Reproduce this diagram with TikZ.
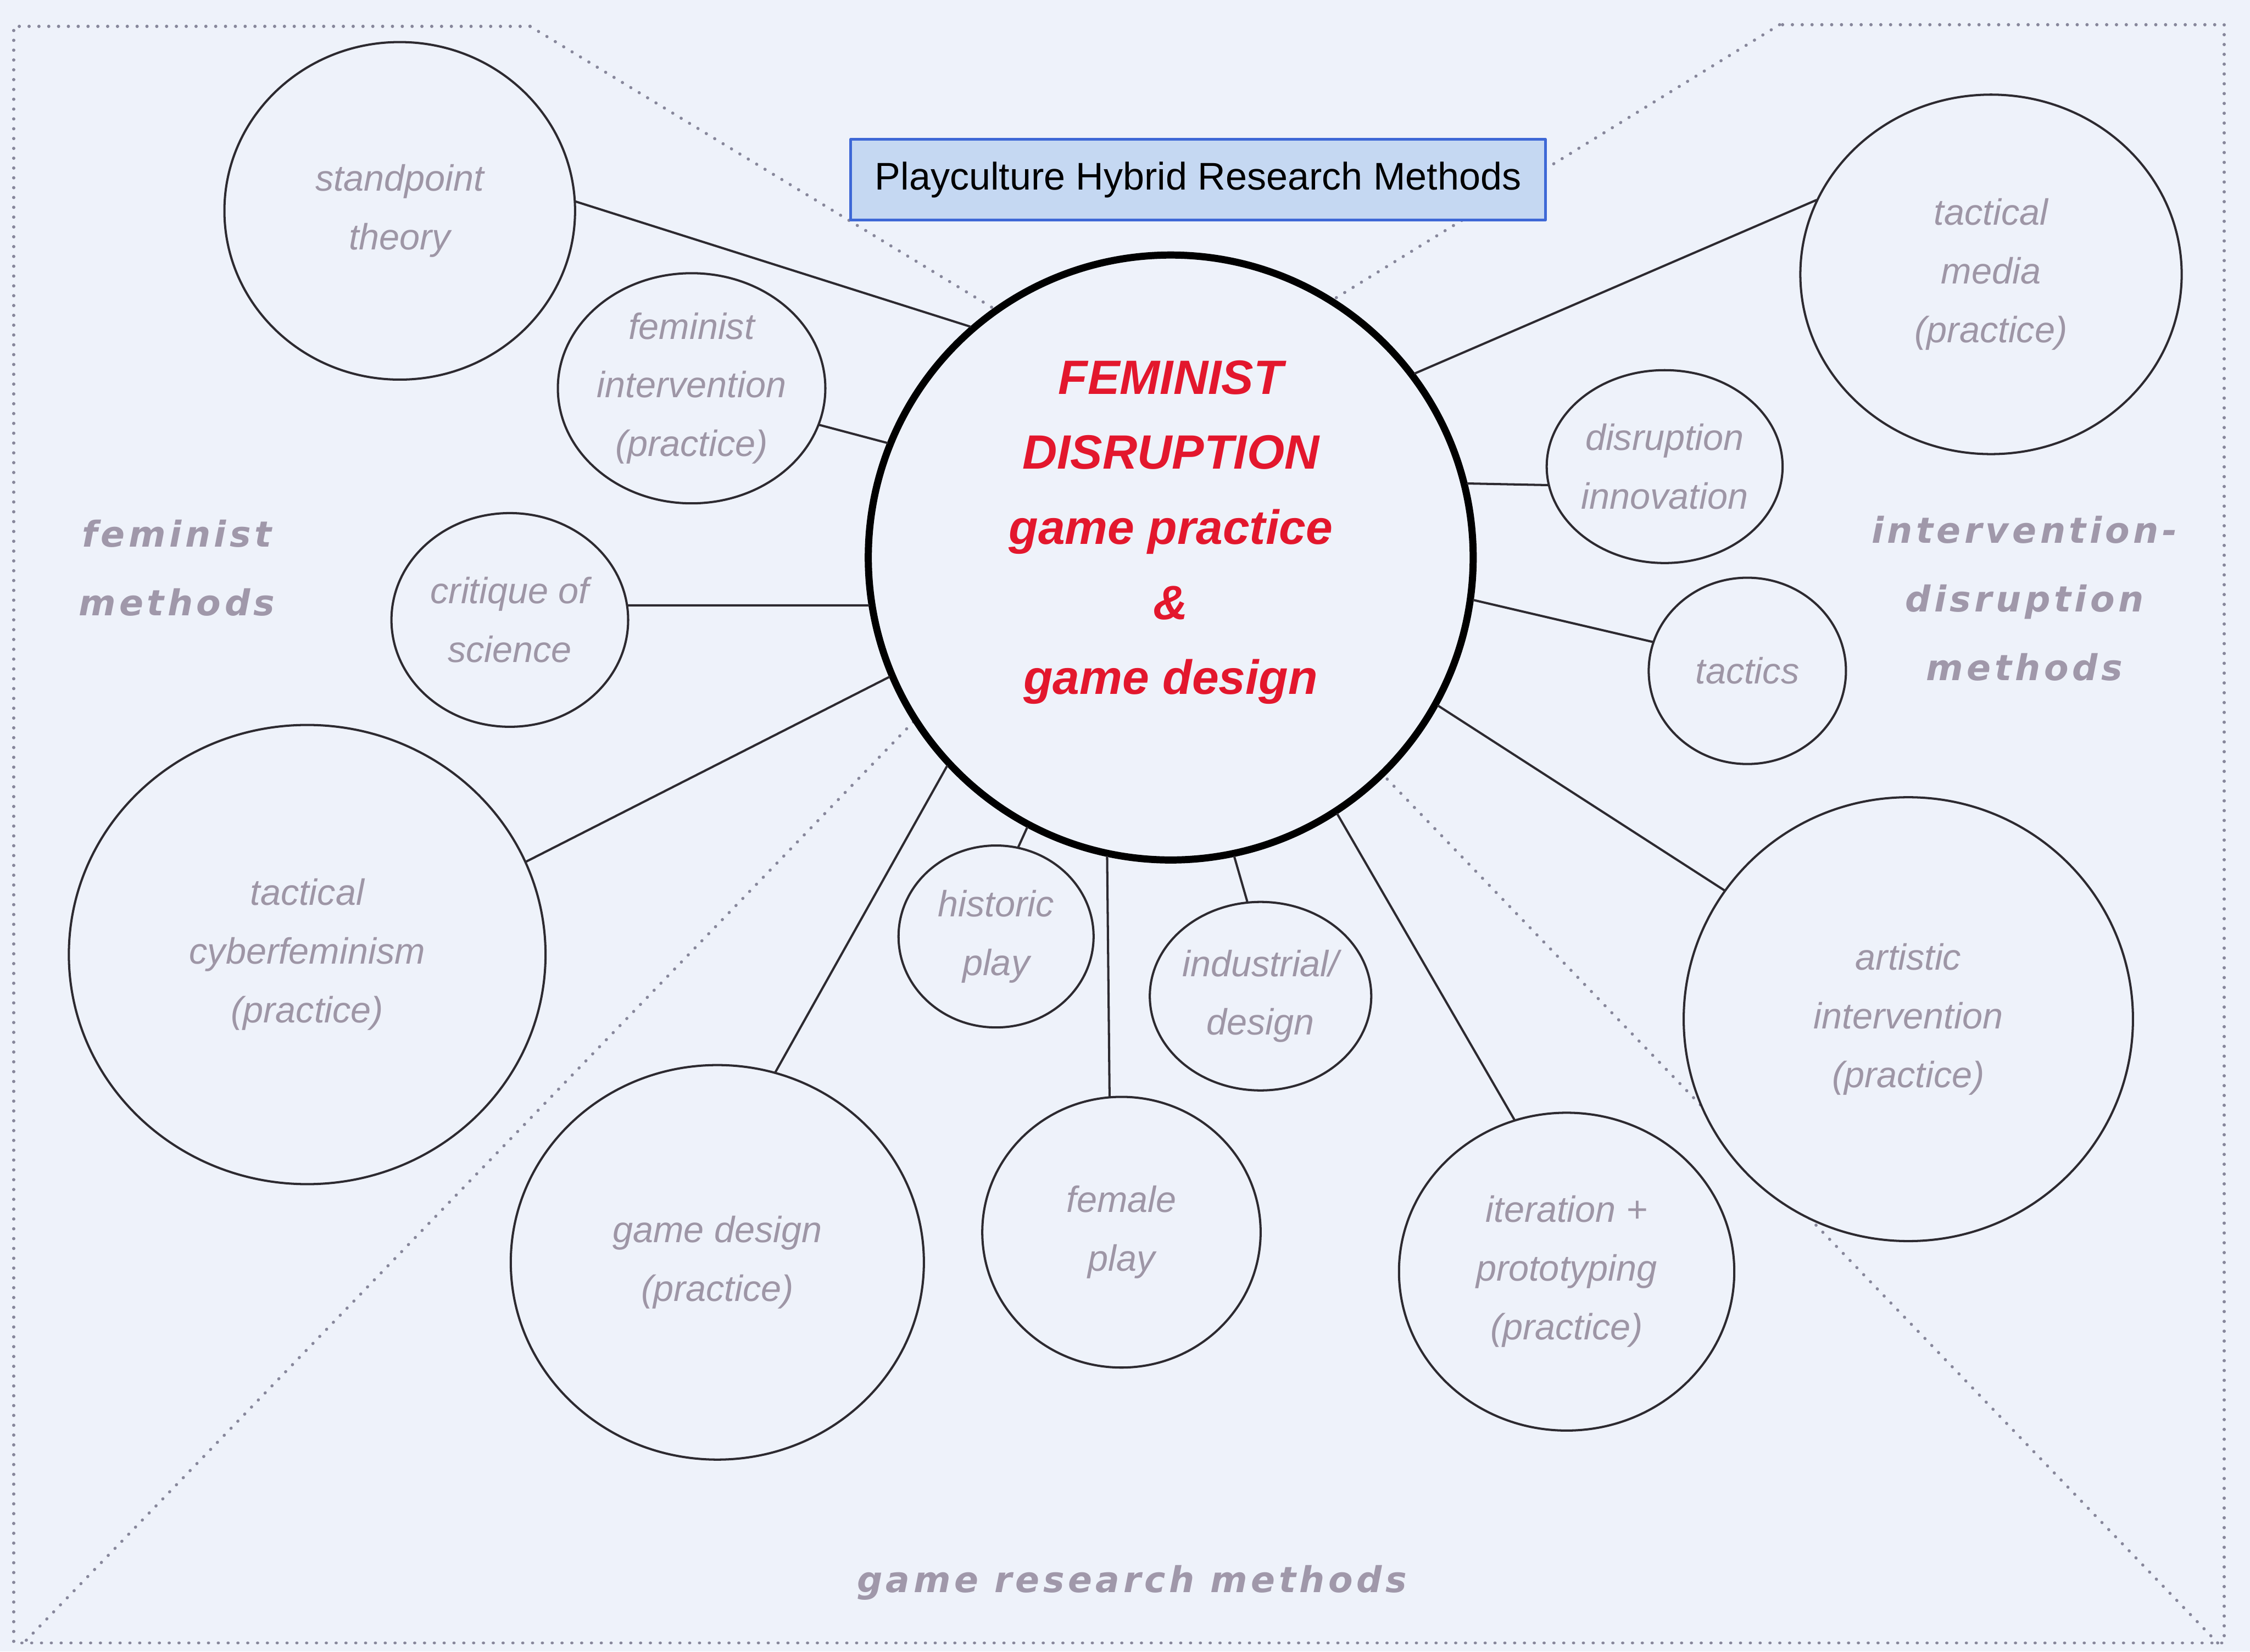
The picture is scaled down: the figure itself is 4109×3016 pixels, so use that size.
\documentclass[tikz,border=0pt]{standalone}
\usepackage{fontspec}
\setmainfont{Liberation Sans}
\newfontfamily\methfont[LetterSpace=10]{DejaVu Sans}
\usetikzlibrary{shapes.geometric}
\definecolor{paper}{RGB}{238,242,250}
\definecolor{softgray}{RGB}{158,150,166}
\definecolor{methgray}{RGB}{160,152,170}
\definecolor{corered}{RGB}{227,23,45}
\definecolor{titlefill}{RGB}{197,216,242}
\definecolor{titleline}{RGB}{62,104,214}
\definecolor{dotgray}{RGB}{135,135,155}
\definecolor{rim}{RGB}{45,42,48}
\begin{document}
\begin{tikzpicture}[x=0.01cm, y=-0.01cm, line join=round, line cap=round,
	bubble/.style={ellipse, draw=rim, line width=1.15pt, fill=paper, inner sep=0pt, align=center,
		text=softgray, font=\fontsize{19}{30.5}\selectfont\itshape},
	spoke/.style={draw=rim, line width=1.15pt},
	zone/.style={draw=dotgray, line width=1.6pt, dash pattern=on 0.1pt off 5pt},
	method/.style={text=methgray, align=center, font=\methfont\fontsize{18.5}{35.6}\selectfont\bfseries\itshape}]
	\fill[paper] (0,0) rectangle (4109,3016);
	% zones of the three method families
	\coordinate (tl) at (968,48); \coordinate (tr) at (3250,45);
	\coordinate (bl) at (48,2995); \coordinate (br) at (4050,3000);
	\draw[zone] (tl) -- (25,48) -- (25,3000) -- (4062,3000) -- (4062,45) -- (tr);
	\draw[zone] (tl) -- (2000,676) (tr) -- (2300,630) (bl) -- (1900,1078) (br) -- (2400,1284);
	% bubbles
	\node[bubble, minimum width=6.4cm, minimum height=6.16cm] (standpoint) at (730,385) {standpoint\\theory};
	\node[bubble, minimum width=4.2cm, minimum height=4.2cm] (femint) at (1263,709) {feminist\\intervention\\(practice)};
	\node[bubble, minimum width=4.32cm, minimum height=3.9cm] (critique) at (931,1132) {critique of\\science};
	\node[bubble, minimum width=8.7cm, minimum height=8.38cm] (cyber) at (561,1743) {tactical\\cyberfeminism\\(practice)};
	\node[bubble, minimum width=7.54cm, minimum height=7.2cm] (gamedesign) at (1310,2305) {game design\\(practice)};
	\node[bubble, minimum width=3.56cm, minimum height=3.32cm] (historic) at (1819,1710) {historic\\play};
	\node[bubble, minimum width=5.08cm, minimum height=4.94cm] (female) at (2048,2250) {female\\play};
	\node[bubble, minimum width=3.66cm, minimum height=3.44cm] (industrial) at (2302,1819) {industrial/\\design};
	\node[bubble, minimum width=6.12cm, minimum height=5.8cm] (iteration) at (2861,2322) {iteration +\\prototyping\\(practice)};
	\node[bubble, minimum width=8.2cm, minimum height=8.1cm] (artistic) at (3485,1861) {artistic\\intervention\\(practice)};
	\node[bubble, minimum width=3.6cm, minimum height=3.4cm] (tactics) at (3191,1225) {tactics};
	\node[bubble, minimum width=3.78cm, minimum height=3.52cm] (disruption) at (3040,852) {disruption\\innovation};
	\node[bubble, minimum width=6.96cm, minimum height=6.56cm] (tmedia) at (3636,501) {tactical\\media\\(practice)};
	% core
	\node[circle, draw=black, line width=3.7pt, fill=paper, minimum size=11.04cm, inner sep=0pt] (core) at (2138,1018) {};
	\node[text=corered, align=center, font=\fontsize{25}{39}\selectfont\bfseries\itshape] (coretext) at (2138,972)
		{FEMINIST\\DISRUPTION\\game practice\\\&\\game design};
	\draw[spoke] (standpoint.3) -- (core.131);
	\draw[spoke] (femint.-16) -- (core.158);
	\draw[spoke] (critique.7) -- (core.189);
	\draw[spoke] (cyber.23) -- (core.203);
	\draw[spoke] (gamedesign.73) -- (core.223);
	\draw[spoke] (historic.76) -- (core.242);
	\draw[spoke] (female.95) -- (core.258);
	\draw[spoke] (industrial.98) -- (core.282);
	\draw[spoke] (iteration.109) -- (core.303);
	\draw[spoke] (artistic.145) -- (core.331);
	\draw[spoke] (tactics.163) -- (core.352);
	\draw[spoke] (disruption.189) -- (core.14);
	\draw[spoke] (tmedia.157) -- (core.37);
	\node[draw=titleline, fill=titlefill, line width=1.4pt, minimum width=12.68cm, minimum height=1.47cm,
		font=\fontsize{20}{24}\selectfont] (title) at (2188,328) {Playculture Hybrid Research Methods};
	\node[method] (femmeth) at (323,1037) {feminist\\methods};
	\node[method] (intmeth) at (3697,1093) {intervention-\\disruption\\methods};
	\node[method] (gamemeth) at (2067,2890) {game research methods};
\end{tikzpicture}
\end{document}
